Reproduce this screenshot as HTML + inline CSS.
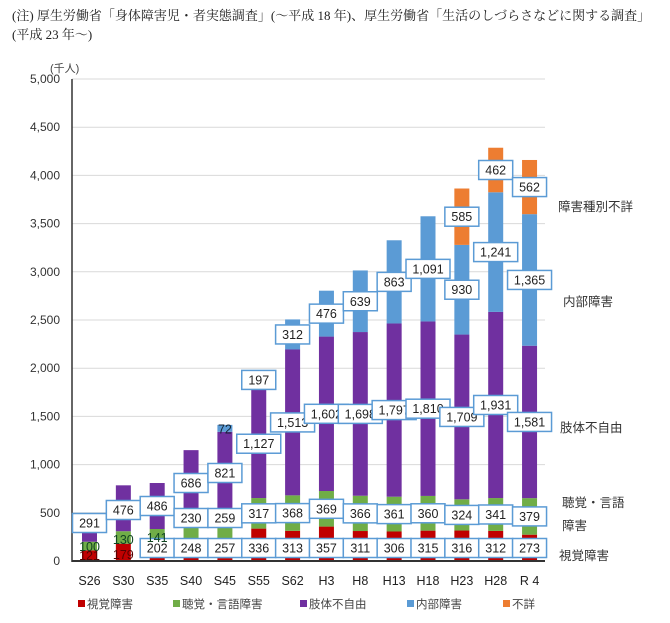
<!DOCTYPE html>
<html><head><meta charset="utf-8"><style>
body{margin:0;background:#fff;width:670px;height:623px;overflow:hidden}
svg{display:block}
.j{font-family:"Liberation Sans","Noto Sans CJK JP",sans-serif}
</style></head><body>
<svg id="s" width="670" height="623" xmlns="http://www.w3.org/2000/svg" class="j">
<text x="12" y="20" font-size="13" fill="#222" font-family="Liberation Serif,Noto Serif CJK SC,serif">(注) 厚生労働省「身体障害児・者実態調査」(～平成 18 年)、厚生労働省「生活のしづらさなどに関する調査」</text>
<text x="12" y="39" font-size="13" fill="#222" font-family="Liberation Serif,Noto Serif CJK SC,serif">(平成 23 年～)</text>
<text x="50" y="72" font-size="11" fill="#444">(千人)</text>
</svg>
<script>
const s=document.getElementById('s');const NS='http://www.w3.org/2000/svg';
function el(t,a,txt){const e=document.createElementNS(NS,t);for(const k in a)e.setAttribute(k,a[k]);if(txt!=null)e.textContent=txt;s.appendChild(e);return e;}
const y0=561,k=(561-79)/5000;const Y=v=>y0-v*k;
for(let i=0;i<=10;i++){const v=i*500,y=Y(v);
 if(i>0)el('line',{x1:72,x2:545,y1:y,y2:y,stroke:'#d9d9d9','stroke-width':1});
 el('text',{x:60,y:y+4,'text-anchor':'end','font-size':12,fill:'#333'},v.toLocaleString('en-US'));}
const cats=['S26','S30','S35','S40','S45','S55','S62','H3','H8','H13','H18','H23','H28','R 4'];
const D=[[121,100,291,0,0],[179,130,476,0,0],[202,141,486,0,0],[248,230,686,0,0],[257,259,821,72,0],[336,317,1127,197,0],[313,368,1513,312,0],[357,369,1602,476,0],[311,366,1698,639,0],[306,361,1797,863,0],[315,360,1810,1091,0],[316,324,1709,930,585],[312,341,1931,1241,462],[273,379,1581,1365,562]];
const H=[[110,90,100,0,0],[179,130,476,0,0],[190,142,477,0,0],[40,310,800,0,0],[30,490,820,72,0]];
const C=['#C00000','#70AD47','#7030A0','#5B9BD5','#ED7D31'];
const labels=[];
D.forEach((d,i)=>{const cx=89.5+i*33.85;let c=0;const h=H[i]||d;
 d.forEach((v,j)=>{if(!v)return;const hv=h[j];el('rect',{x:cx-7.5,y:Y(c+hv),width:15,height:hv*k,fill:C[j]});
  labels.push([cx,Y(c+hv/2),v,i,j]);c+=hv;});
 el('text',{x:cx,y:585,'text-anchor':'middle','font-size':12.5,fill:'#222'},cats[i]);});
el('line',{x1:72,x2:545,y1:561,y2:561,stroke:'#333','stroke-width':2});
el('line',{x1:72,x2:72,y1:79,y2:562,stroke:'#333','stroke-width':1.5});
labels.forEach(([cx,y,v,i,j])=>{const t=v.toLocaleString('en-US');
 let nobox=(i<2&&j<2)||(i==2&&j==1)||(i==4&&j==3);
 if(j==0&&!nobox)y=548;
 if(i==0&&j==0)y=555; if(i==0&&j==1)y=546; if(i==1&&j==0)y=554; if(i==1&&j==1)y=539; if(i==2&&j==1)y=537;
 if(i==0&&j==2)y=523; if(i==1&&j==2)y=510; if(i==2&&j==2)y=506; if(i==3&&j==2)y=483;if(i==4&&j==2)y=473;if(i==3&&j==1)y=527;if(i==4&&j==1)y=525;
 if(j==1&&!nobox)y=Math.min(y,518);
 if(nobox){el('text',{x:cx,y:y+5,'text-anchor':'middle','font-size':12.5,fill:j==0?'#500':(j==3?'#123':'#142')},t);return;}
 const w=t.length<=3?34:44;
 el('rect',{x:cx-w/2,y:y-9.5,width:w,height:19,fill:'#fff',stroke:'#5B9BD5','stroke-width':1.5});
 el('text',{x:cx,y:y+4.5,'text-anchor':'middle','font-size':12.5,fill:'#222'},t);});
[['障害種別不詳',558,211],['内部障害',563,306],['肢体不自由',560,432],['聴覚・言語',562,507],['障害',562,530],['視覚障害',559,560]].forEach(a=>el('text',{x:a[1],y:a[2],'font-size':12.5,fill:'#333'},a[0]));
[['視覚障害',78],['聴覚・言語障害',173],['肢体不自由',300],['内部障害',407],['不詳',503]].forEach((a,i)=>{el('rect',{x:a[1],y:600,width:7,height:7,fill:C[i]});el('text',{x:a[1]+9,y:608,'font-size':11.5,fill:'#444'},a[0]);});
</script>
</body></html>
